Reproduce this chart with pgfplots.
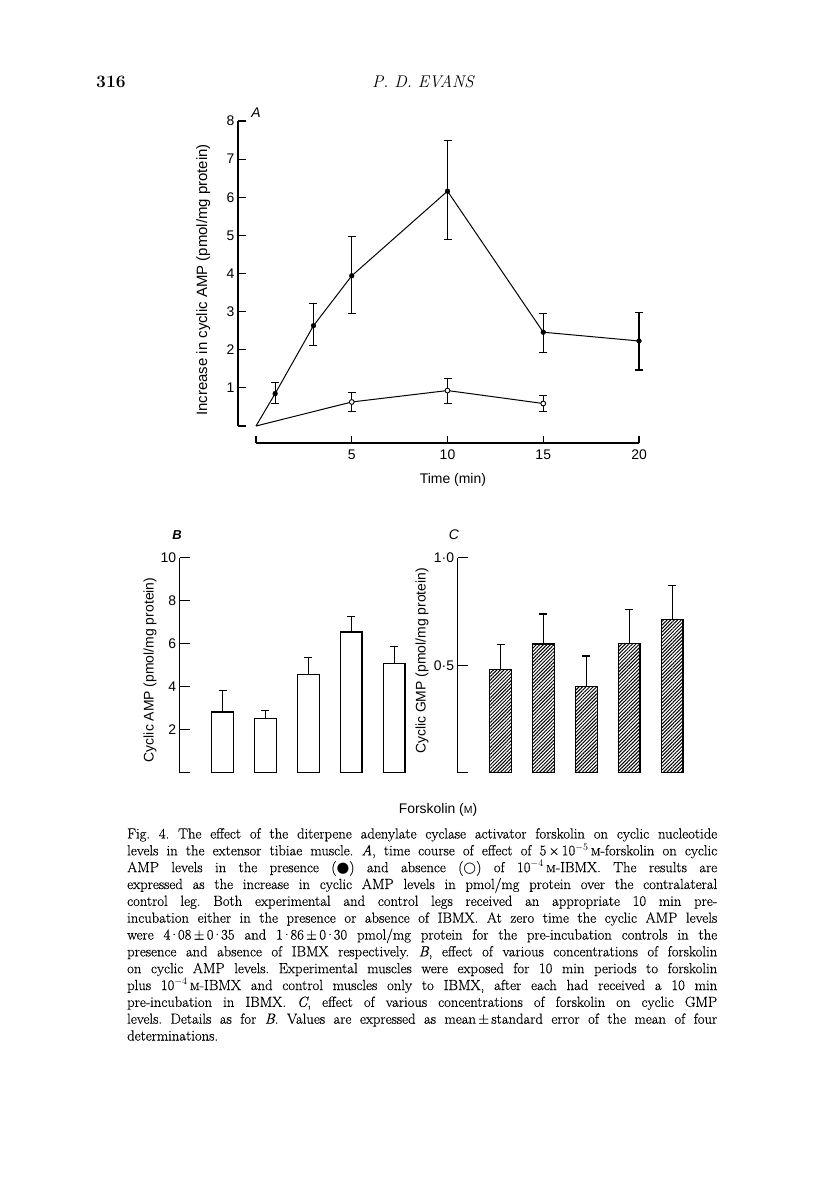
\documentclass[border=0pt]{standalone}
\usepackage{fontspec}
\setsansfont{Liberation Sans}
\newfontfamily\dejavu{DejaVu Sans}
\newfontfamily\capfont{Latin Modern Roman}[FakeBold=0.4]
\usepackage{pgfplots}
\pgfplotsset{compat=1.18}
\usetikzlibrary{patterns.meta}
\newcommand\pd{\kern-0.1em·\kern-0.1em}
\newcommand\smM{{\fontsize{10.5}{10}\selectfont M}}

\pgfplotstableread{
x y
0 0
1 0.85
3 2.63
5 3.94
10 6.16
15 2.46
20 2.23
}\filledline
\pgfplotstableread{
x y ep em
1 0.85 0.28 0.26
3 2.63 0.58 0.52
5 3.94 1.02 1.00
10 6.16 1.33 1.26
15 2.46 0.49 0.53
20 2.23 0.75 0.76
}\filledpts
\pgfplotstableread{
x y
0 0
5 0.63
10 0.93
15 0.59
}\openline
\pgfplotstableread{
x y ep em
5 0.63 0.25 0.25
10 0.93 0.32 0.33
15 0.59 0.21 0.21
}\openpts

\pgfplotsset{
  myerr/.style={error bars/.cd, y dir=#1, y explicit,
    error bar style={line width=1.1bp, black},
    error mark options={rotate=90, black, mark size=4bp, line width=1.1bp},
    /pgfplots/.cd},
}

\begin{document}
\begin{tikzpicture}[font=\sffamily\fontsize{14}{16}\selectfont]

% header
\node[anchor=base west, inner sep=0, font=\rmfamily\bfseries\fontsize{17.5}{20}\selectfont] at (96bp,-87bp) {316};
\node[anchor=base, inner sep=0, font=\rmfamily\itshape\fontsize{17}{20}\selectfont] at (423bp,-87bp) {P.\ D.\ EVANS};

% panel letters
\node[font=\sffamily\itshape\fontsize{14}{14}\selectfont] at (256bp,-113bp) {A};
\node[font=\sffamily\bfseries\itshape\fontsize{13}{13}\selectfont] at (177bp,-535bp) {B};
\node[font=\sffamily\itshape\fontsize{14}{14}\selectfont] at (454bp,-535bp) {C};

% ---------------- Panel A
\begin{axis}[
  at={(256bp,-426bp)}, anchor=south west,
  scale only axis, width=383bp, height=305bp,
  xmin=0, xmax=20, ymin=0, ymax=8,
  axis lines*=left,
  axis x line shift=17bp, axis y line shift=18bp,
  axis line style={line width=1.2bp},
  tick align=inside, major tick length=7.5bp,
  tick style={line width=1.2bp, black},
  xtick={0,5,10,15,20}, xticklabels={,5,10,15,20},
  ytick={0,1,...,8}, yticklabels={,1,2,3,4,5,6,7,8},
  xticklabel style={yshift=-3bp},
  xlabel={Time (min)},
  ylabel={Increase in cyclic AMP (pmol/mg protein)},
  xlabel style={at={(axis description cs:0.514,-0.177)}, anchor=center},
  ylabel style={at={(axis description cs:-0.138,0.479)}, anchor=center, font=\sffamily\fontsize{15}{17}\selectfont},
  clip=false,
]
\addplot[black, line width=1bp, no marks] table[x=x,y=y] {\filledline};
\addplot[black, only marks, mark=*, mark size=2.4bp, myerr=both]
  table[x=x, y=y, y error plus=ep, y error minus=em] {\filledpts};
\addplot[black, line width=1bp, no marks] table[x=x,y=y] {\openline};
\addplot[black, only marks, mark=*, mark options={fill=white, line width=0.9bp}, mark size=2.4bp, myerr=both]
  table[x=x, y=y, y error plus=ep, y error minus=em] {\openpts};
\end{axis}

% ---------------- Panel B
\begin{axis}[
  at={(179.6bp,-772.7bp)}, anchor=south west,
  scale only axis, width=236bp, height=215bp,
  xmin=-1, xmax=4.5, ymin=0, ymax=10,
  axis y line*=left, axis x line*=bottom,
  x axis line style={draw=none},
  axis line style={line width=1.2bp},
  xmajorticks=false,
  tick align=inside, major tick length=10bp,
  tick style={line width=1.2bp, black},
  xtick={0,1,2,3,4},
  xticklabels={Control, 5\,×\,10\textsuperscript{−6}, 10\textsuperscript{−5}, 5\,×\,10\textsuperscript{−5}, 10\textsuperscript{−4}},
  ytick={0,2,...,10}, yticklabels={,2,4,6,8,10},
  xticklabel style={yshift=-4bp},
  ylabel={Cyclic AMP (pmol/mg protein)},
  ylabel style={at={(axis description cs:-0.125,0.478)}, anchor=center},
  xlabel={Forskolin ({\fontsize{10.5}{10}\selectfont M})},
  xlabel style={at={(axis description cs:1.095,-0.173)}, anchor=center},
  clip=false,
]
\addplot[ybar, bar width=21.7bp, draw=black, fill=white, line width=1.3bp, myerr=plus]
  coordinates {(0,2.82) +- (0,1.01) (1,2.53) +- (0,0.37) (2,4.57) +- (0,0.78) (3,6.54) +- (0,0.73) (4,5.09) +- (0,0.79)};
\end{axis}

% ---------------- Panel C
\begin{axis}[
  at={(457.6bp,-772.7bp)}, anchor=south west,
  scale only axis, width=236bp, height=215bp,
  xmin=-1, xmax=4.5, ymin=0, ymax=1,
  axis y line*=left, axis x line*=bottom,
  x axis line style={draw=none},
  axis line style={line width=1.2bp},
  xmajorticks=false,
  tick align=inside, major tick length=10bp,
  tick style={line width=1.2bp, black},
  xtick={0,1,2,3,4},
  xticklabels={Control, 5\,×\,10\textsuperscript{−6}, 10\textsuperscript{−5}, 5\,×\,10\textsuperscript{−5}, 10\textsuperscript{−4}},
  ytick={0,0.5,1}, yticklabels={,0·5,1·0},
  xticklabel style={yshift=-4bp},
  ylabel={Cyclic GMP (pmol/mg protein)},
  ylabel style={at={(axis description cs:-0.151,0.52)}, anchor=center},
  clip=false,
]
\addplot[ybar, bar width=21.7bp, draw=black, line width=1.3bp,
  pattern={Lines[angle=45, distance=2.5bp, line width=1bp]}, myerr=plus]
  coordinates {(0,0.479) +- (0,0.119) (1,0.598) +- (0,0.140) (2,0.402) +- (0,0.141) (3,0.600) +- (0,0.160) (4,0.712) +- (0,0.159)};
\end{axis}

% caption
\node[anchor=north west, inner sep=0, text width=590bp, align=left,
      font=\capfont\fontsize{14.7}{16.9}\selectfont] at (127bp,-828bp) {%
\spaceskip=0pt\xspaceskip=0pt\frenchspacing
\makebox[590bp][s]{Fig. 4. The effect of the diterpene adenylate cyclase activator forskolin on cyclic nucleotide}\\
\makebox[590bp][s]{levels in the extensor tibiae muscle. \textit{A}, time course of effect of 5\,×\,10$^{-5}$\,\smM-forskolin on cyclic}\\
\makebox[590bp][s]{AMP levels in the presence ({\dejavu ●}) and absence ({\dejavu ○}) of 10$^{-4}$\,\smM-IBMX. The results are}\\
\makebox[590bp][s]{expressed as the increase in cyclic AMP levels in pmol/mg protein over the contralateral}\\
\makebox[590bp][s]{control leg. Both experimental and control legs received an appropriate 10 min pre-}\\
\makebox[590bp][s]{incubation either in the presence or absence of IBMX. At zero time the cyclic AMP levels}\\
\makebox[590bp][s]{were 4\pd08\,±\,0\pd35 and 1\pd86\,±\,0\pd30 pmol/mg protein for the pre-incubation controls in the}\\
\makebox[590bp][s]{presence and absence of IBMX respectively. \textit{B}, effect of various concentrations of forskolin}\\
\makebox[590bp][s]{on cyclic AMP levels. Experimental muscles were exposed for 10 min periods to forskolin}\\
\makebox[590bp][s]{plus 10$^{-4}$\,\smM-IBMX and control muscles only to IBMX, after each had received a 10 min}\\
\makebox[590bp][s]{pre-incubation in IBMX. \textit{C}, effect of various concentrations of forskolin on cyclic GMP}\\
\makebox[590bp][s]{levels. Details as for \textit{B}. Values are expressed as mean\,±\,standard error of the mean of four}\\
determinations.};

\pgfresetboundingbox
\useasboundingbox (0,0) rectangle (816bp,-1181bp);
\end{tikzpicture}
\end{document}
